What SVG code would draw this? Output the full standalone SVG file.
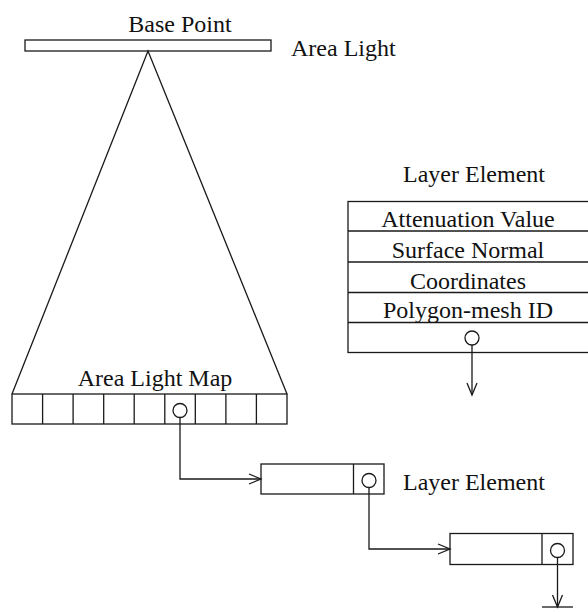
<svg xmlns="http://www.w3.org/2000/svg" width="588" height="612" viewBox="0 0 588 612">
<style>
.ln{fill:none;stroke:#1a1a1a;stroke-width:1.3}
.bx{fill:#fff;stroke:#1a1a1a;stroke-width:1.3}
.t{font-family:"Liberation Serif","Times New Roman",serif;font-size:24px;fill:#111}
.c{text-anchor:middle}
</style>
<defs>
<marker id="arr" markerUnits="userSpaceOnUse" markerWidth="16" markerHeight="14" viewBox="-13 -7 16 14" refX="0" refY="0" orient="auto">
<path d="M-12,-5 L0,0 L-12,5" fill="none" stroke="#1a1a1a" stroke-width="1.3"/>
</marker>
</defs>
<rect width="588" height="612" fill="#fff"/>
<g id="area-light">
<rect class="bx" x="25" y="40" width="246" height="11"/>
<text class="t c" x="180" y="32">Base Point</text>
<text class="t" x="291" y="56">Area Light</text>
</g>
<g id="light-cone">
<path class="ln" d="M12,394 L148,51 L287,394"/>
</g>
<g id="area-light-map">
<text class="t c" x="155" y="386">Area Light Map</text>
<rect class="bx" x="12" y="394" width="275" height="30"/>
<path class="ln" d="M42.6,394V424M73.1,394V424M103.7,394V424M134.2,394V424M164.8,394V424M195.3,394V424M225.9,394V424M256.4,394V424"/>
<circle class="bx" cx="180" cy="410.5" r="7"/>
</g>
<g id="layer-element-table">
<text class="t c" x="474" y="182">Layer Element</text>
<rect class="bx" x="348" y="201.5" width="250" height="151"/>
<path class="ln" d="M348,231H598M348,262H598M348,292.5H598M348,322.5H598"/>
<text class="t c" x="468" y="227">Attenuation Value</text>
<text class="t c" x="468" y="258">Surface Normal</text>
<text class="t c" x="468" y="289">Coordinates</text>
<text class="t c" x="468" y="318">Polygon-mesh ID</text>
<circle class="bx" cx="472" cy="338" r="7"/>
</g>
<g id="layer-element-1">
<rect class="bx" x="261" y="464" width="123" height="30"/>
<path class="ln" d="M353.5,464V494"/>
<circle class="bx" cx="369" cy="480.5" r="7"/>
<text class="t" x="403" y="490">Layer Element</text>
</g>
<g id="layer-element-2">
<rect class="bx" x="450" y="533.5" width="123" height="31"/>
<path class="ln" d="M542,533.5V564.5"/>
<circle class="bx" cx="557.5" cy="550.5" r="7"/>
</g>
<g id="connectors">
<path class="ln" d="M180,417.5V479H261" marker-end="url(#arr)"/>
<path class="ln" d="M369,487.5V549H450" marker-end="url(#arr)"/>
<path class="ln" d="M472,345V395" marker-end="url(#arr)"/>
<path class="ln" d="M557.5,557.5V607" marker-end="url(#arr)"/>
<path class="ln" d="M542,607H573"/>
</g>
</svg>
